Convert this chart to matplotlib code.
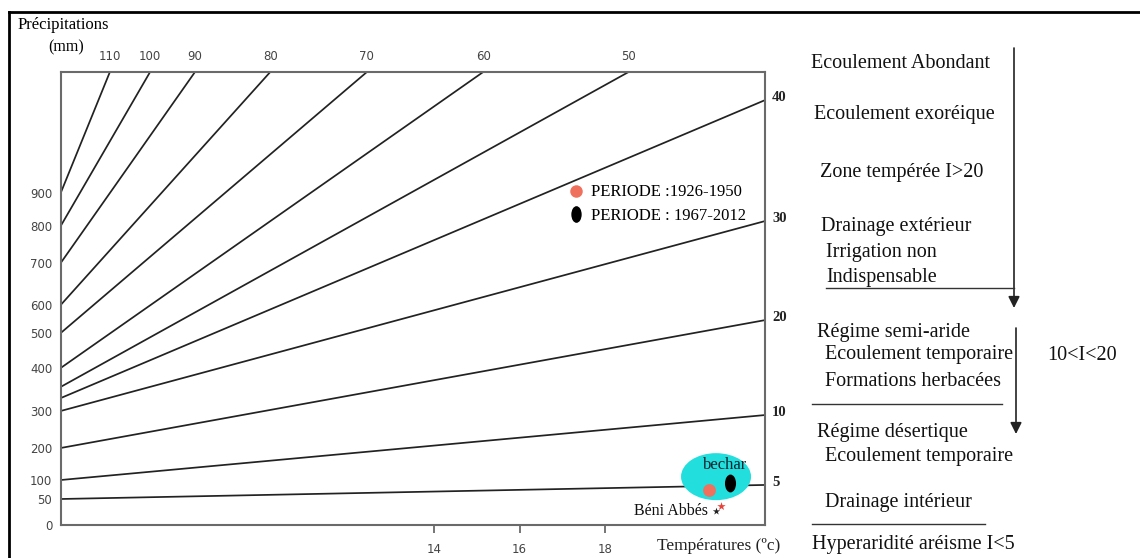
import numpy as np
import matplotlib
matplotlib.use("Agg")
import matplotlib.pyplot as plt
from matplotlib.patches import Ellipse, FancyArrowPatch
from matplotlib.path import Path
from matplotlib.lines import Line2D

# ------------------------------------------------------------------ data
index_values = [5, 10, 20, 30, 40, 50, 60, 70, 80, 90, 100, 110]
# precipitation (mm) where each aridity line leaves the left edge (T = T_MIN)
line_start_P = [50, 100, 200, 300, 330, 356, 400, 500, 600, 700, 800, 900]
# temperature / precipitation where each line leaves the chart
line_end_T = [21.74, 21.74, 21.74, 21.74, 21.74, 18.55, 15.15, 12.43, 10.17, 8.41, 7.36, 6.42]
line_end_P = [87, 289, 546, 815, 1184, 1270, 1270, 1270, 1270, 1270, 1270, 1270]

T_MIN, T_MAX = 5.27, 21.74
P_MIN, P_MAX = 0, 1270

precip_ticks = [0, 50, 100, 200, 300, 400, 500, 600, 700, 800, 900]
temp_ticks = [14, 16, 18]

period_labels = ["PERIODE :1926-1950", "PERIODE : 1967-2012"]
bechar_T = [20.42, 20.91]
bechar_P = [74, 91]
beni_T = [20.71, 20.60]
beni_P = [37, 26]

# scale calibration of the scanned abacus: precipitation -> fraction of axis height
SCALE_P = [0, 50, 100, 200, 300, 400, 500, 600, 700, 800, 900, 1270]
SCALE_FRAC = [0, .0574, .0993, .170, .2517, .3466, .4238, .4857, .5784, .660, .7329, 1.0]

right_panel = [
    ("Ecoulement Abondant", 811, 63),
    ("Ecoulement exoréique", 814, 115),
    ("Zone tempérée I>20", 820, 172),
    ("Drainage extérieur", 821, 227),
    ("Irrigation non", 826, 252),
    ("Indispensable", 826, 277),
    ("Régime semi-aride", 817, 333),
    ("Ecoulement temporaire", 825, 355),
    ("10<I<20", 1047, 355),
    ("Formations herbacées", 825, 382),
    ("Régime désertique", 817, 433),
    ("Ecoulement temporaire", 825, 457),
    ("Drainage intérieur", 825, 502),
    ("Hyperaridité aréisme I<5", 812, 545),
]

# ------------------------------------------------------------------ helpers
W, H = 1140, 558


def _interp_ext(x, xp, fp):
    x = np.asarray(x, dtype=float)
    y = np.interp(x, xp, fp)
    lo_slope = (fp[1] - fp[0]) / (xp[1] - xp[0])
    hi_slope = (fp[-1] - fp[-2]) / (xp[-1] - xp[-2])
    y = np.where(x < xp[0], fp[0] + (x - xp[0]) * lo_slope, y)
    y = np.where(x > xp[-1], fp[-1] + (x - xp[-1]) * hi_slope, y)
    return y


def fwd(p):
    return _interp_ext(p, SCALE_P, SCALE_FRAC)


def inv(f):
    return _interp_ext(f, SCALE_FRAC, SCALE_P)


def fx(px):
    return px / W


def fy(py):
    return 1 - py / H


SERIF = "Liberation Serif"
SANS = "DejaVu Sans"
ORANGE = "#F0705E"
CYAN = "#22DEDC"

circ = Path.unit_circle()
ELLIPSE_MARKER = Path(circ.vertices * np.array([0.62, 1.0]), circ.codes)

# ------------------------------------------------------------------ figure
fig = plt.figure(figsize=(W / 100, H / 100), dpi=100)
ax = fig.add_axes([fx(60.7), fy(525), fx(765) - fx(60.7), fy(72) - fy(525)])
ax.set_yscale("function", functions=(fwd, inv))
ax.set_xlim(T_MIN, T_MAX)
ax.set_ylim(P_MIN, P_MAX)

for s in ax.spines.values():
    s.set_color("#6a6a6a")
    s.set_linewidth(1.5)

# aridity index lines
for I, p0, t1, p1 in zip(index_values, line_start_P, line_end_T, line_end_P):
    ax.plot([T_MIN, t1], [p0, p1], color="#222222", lw=1.25, solid_capstyle="butt")
    if p1 >= P_MAX:
        ax.annotate(str(I), (t1, P_MAX), xytext=(0, 11), textcoords="offset points",
                    ha="center", va="center", fontsize=8.5, family=SANS, color="#444444",
                    annotation_clip=False)
    else:
        ax.annotate(str(I), (t1, p1), xytext=(5, 2), textcoords="offset points",
                    ha="left", va="center", fontsize=10.5, family=SERIF, weight="bold",
                    color="#222222", annotation_clip=False)

# ticks
ax.set_yticks(precip_ticks)
ax.set_yticklabels([str(v) for v in precip_ticks])
ax.set_xticks(temp_ticks)
ax.set_xticklabels([str(v) for v in temp_ticks])
ax.yaxis.set_minor_locator(matplotlib.ticker.NullLocator())
ax.tick_params(axis="y", length=0, pad=6, labelsize=8.5, labelcolor="#444444")
ax.tick_params(axis="x", length=6, width=1.3, color="#6a6a6a", pad=7,
               labelsize=8.5, labelcolor="#444444")
for lab in ax.get_xticklabels() + ax.get_yticklabels():
    lab.set_family(SANS)

# Bechar highlight ellipse
fig.canvas.draw()
to_axes = ax.transData + ax.transAxes.inverted()
cx, cy = to_axes.transform((np.mean(bechar_T) - 0.07, np.mean(bechar_P) + 28))
ax.add_patch(Ellipse((cx, cy), 70 / 704.3, 47 / 453, transform=ax.transAxes,
                     facecolor=CYAN, edgecolor="none", zorder=3))

ax.scatter([bechar_T[0]], [bechar_P[0]], s=85, color=ORANGE, zorder=4, linewidths=0)
ax.scatter([bechar_T[1]], [bechar_P[1]], s=165, marker=ELLIPSE_MARKER, color="black",
           zorder=4, linewidths=0)
ax.annotate("bechar", (bechar_T[1], bechar_P[1]), xytext=(-3, 13), textcoords="offset points",
            ha="center", va="center", fontsize=12, family=SERIF, color="#10222e", zorder=5)

# Beni Abbes
ax.scatter([beni_T[0]], [beni_P[0]], s=40, marker="*", color="#E8433A", zorder=4, linewidths=0)
ax.scatter([beni_T[1]], [beni_P[1]], s=30, marker="*", color="#222222", zorder=4, linewidths=0)
ax.annotate("Béni Abbés", (beni_T[1], beni_P[1]), xytext=(-6, 0), textcoords="offset points",
            ha="right", va="center", fontsize=11.5, family=SERIF, color="#111111")

# legend
handles = [
    Line2D([], [], ls="none", marker="o", markersize=9, color=ORANGE, markeredgewidth=0),
    Line2D([], [], ls="none", marker=ELLIPSE_MARKER, markersize=12, color="black",
           markeredgewidth=0),
]
ax.legend(handles, period_labels, loc="upper left", bbox_to_anchor=(0.7205, 0.752),
          frameon=False, prop={"family": SERIF, "size": 12}, handlelength=0.9,
          handletextpad=0.45, labelspacing=0.45, borderpad=0, borderaxespad=0)

# axis titles
fig.text(fx(18), fy(25), "Précipitations", family=SERIF, fontsize=12, ha="left", va="center")
fig.text(fx(48), fy(47), "(mm)", family=SERIF, fontsize=11.5, ha="left", va="center")
fig.text(fx(657), fy(546), "Températures (ºc)", family=SERIF, fontsize=12.5, ha="left",
         va="center", color="#222222")

# right-hand classification panel
for s, x, y in right_panel:
    fig.text(fx(x), fy(y), s, family=SERIF, fontsize=14.5, ha="left", va="center",
             color="#111111")

for (x0, y0, x1, y1) in [(1014, 48, 1014, 308), (1016, 328, 1016, 434)]:
    fig.add_artist(FancyArrowPatch((fx(x0), fy(y0)), (fx(x1), fy(y1)),
                                   transform=fig.transFigure, arrowstyle="-|>",
                                   mutation_scale=17, lw=1.2, color="#222222",
                                   shrinkA=0, shrinkB=0))
for (x0, x1, y) in [(826, 1014, 288), (812, 1002, 404), (812, 985, 524)]:
    fig.add_artist(Line2D([fx(x0), fx(x1)], [fy(y), fy(y)], transform=fig.transFigure,
                          color="#333333", lw=1.0))

# outer frame of the scanned figure
fig.add_artist(Line2D([fx(9), 1], [fy(12), fy(12)], transform=fig.transFigure,
                      color="black", lw=2))
fig.add_artist(Line2D([fx(9), fx(9)], [fy(12), 0], transform=fig.transFigure,
                      color="black", lw=2))

fig.savefig("out.png", dpi=100)
